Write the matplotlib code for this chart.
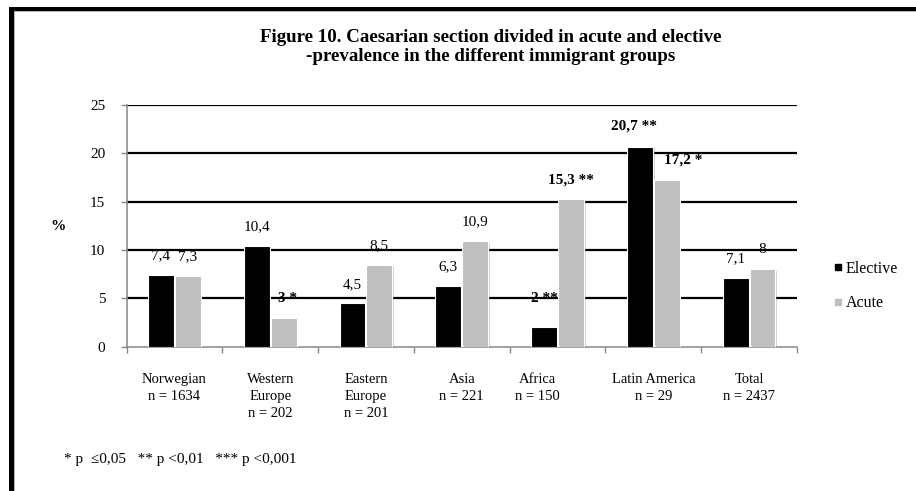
import numpy as np
import matplotlib.pyplot as plt
from matplotlib import patheffects
from matplotlib.lines import Line2D
from matplotlib.patches import Rectangle
from matplotlib.transforms import ScaledTranslation

plt.rcParams['font.family'] = ['Liberation Serif', 'DejaVu Serif']

groups = ["Norwegian\nn = 1634", "Western\nEurope\nn = 202", "Eastern\nEurope\nn = 201",
          "Asia\nn = 221", "Africa\nn = 150", "Latin America\nn = 29", "Total\nn = 2437"]
elective = [7.4, 10.4, 4.5, 6.3, 2.0, 20.7, 7.1]
acute = [7.3, 3.0, 8.5, 10.9, 15.3, 17.2, 8.0]
elective_sig = ["", "", "", "", "**", "**", ""]
acute_sig = ["", "*", "", "", "**", "*", ""]

# label nudges in pixels (dx, dy above bar top)
elective_off = [(0, 19), (0, 19), (0, 19), (0, 19), (0, 29), (-6, 21), (0, 19)]
acute_off = [(0, 19), (4, 19), (0, 19), (0, 20), (0, 19), (16, 20), (0, 20)]

BLACK = '#000000'
GREY = '#bfbfbf'
AXCOL = '#868686'
FS = 10.5


def fmt(v):
    return ('%g' % v).replace('.', ',')


fig = plt.figure(figsize=(9.16, 4.91), dpi=100)
W, H = 916, 491
ax = fig.add_axes([126.5 / W, (H - 346.7) / H, (797 - 126.5) / W, 241.7 / H])

x = np.arange(len(groups))
w = 0.27
shadow = [patheffects.SimplePatchShadow(offset=(1.2, -1.2), shadow_rgbFace='#808080', alpha=0.35),
          patheffects.Normal()]
b1 = ax.bar(x - 0.14, elective, w, color=BLACK, edgecolor='white', lw=0.8, zorder=3)
b2 = ax.bar(x + 0.14, acute, w, color=GREY, edgecolor='white', lw=0.8, zorder=3)
for p in list(b1) + list(b2):
    p.set_path_effects(shadow)

for xs, vals, sigs, offs in [(x - 0.14, elective, elective_sig, elective_off),
                             (x + 0.14, acute, acute_sig, acute_off)]:
    for xi, v, s, (dx, dy) in zip(xs, vals, sigs, offs):
        txt = fmt(v) + (' ' + s if s else '')
        ax.annotate(txt, (xi, v), xytext=(dx * 0.72, dy * 0.72), textcoords='offset points',
                    ha='center', va='center', fontsize=11,
                    fontweight='bold' if s else 'normal', zorder=5)

for yv in range(5, 26, 5):
    ax.axhline(yv, color='black', lw=1.6, zorder=1)

ax.set_xlim(-0.5, 6.5)
ax.set_ylim(0, 25)
ax.set_yticks(range(0, 26, 5))
ax.set_xticks(np.arange(-0.5, 7, 1))
ax.set_xticklabels([])
ax.set_xticks(x, minor=True)
ax.set_xticklabels(groups, minor=True, fontsize=FS, linespacing=1.42)
ax.tick_params(axis='x', which='major', length=4.3, color=AXCOL, width=1)
ax.tick_params(axis='x', which='minor', length=0, pad=19)
ax.tick_params(axis='y', length=4.3, color=AXCOL, width=1, pad=11, labelsize=11)
for side in ['top', 'right']:
    ax.spines[side].set_visible(False)
for side in ['left', 'bottom']:
    ax.spines[side].set_color(AXCOL)
    ax.spines[side].set_linewidth(1.1)

# Africa label sits a bit left of its bars
for lab in ax.get_xticklabels(minor=True):
    if lab.get_text().startswith('Africa'):
        lab.set_transform(lab.get_transform() + ScaledTranslation(-0.2, 0, fig.dpi_scale_trans))

fig.text(58 / W, 1 - 227 / H, '%', fontsize=11, fontweight='bold', ha='center', va='center')

fig.text(491 / W, 1 - 47 / H,
         'Figure 10. Caesarian section divided in acute and elective\n'
         '-prevalence in the different immigrant groups',
         fontsize=13.6, fontweight='bold', ha='center', va='center', linespacing=1.15)

handles = [Line2D([], [], marker='s', ls='', color=BLACK, markersize=4),
           Line2D([], [], marker='s', ls='', color=GREY, markersize=4)]
fig.legend(handles, ['Elective', 'Acute'], loc='center left',
           bbox_to_anchor=(835 / W, 1 - 286 / H), frameon=False, fontsize=11.5,
           handlelength=0.4, handletextpad=0.25, labelspacing=1.15,
           borderpad=0, borderaxespad=0)

fig.text(64 / W, 1 - 460 / H, '* p  \u22640,05   ** p <0,01   *** p <0,001',
         fontsize=11, ha='left', va='center')

# frame edges at left and top
fig.add_artist(Rectangle((14 / W, 1 - 11.5 / H), (W - 14) / W, 1.2 / H,
                         transform=fig.transFigure, color='#b4b4b4', lw=0))
fig.add_artist(Rectangle((14 / W, 0), 1.2 / W, (H - 10) / H,
                         transform=fig.transFigure, color='#b4b4b4', lw=0))
fig.add_artist(Rectangle((9 / W, 1 - 10.5 / H), (W - 9) / W, 3.5 / H,
                         transform=fig.transFigure, color='black', lw=0))
fig.add_artist(Rectangle((9 / W, 0), 5 / W, (H - 7) / H,
                         transform=fig.transFigure, color='black', lw=0))

fig.savefig('out.png', dpi=100)
